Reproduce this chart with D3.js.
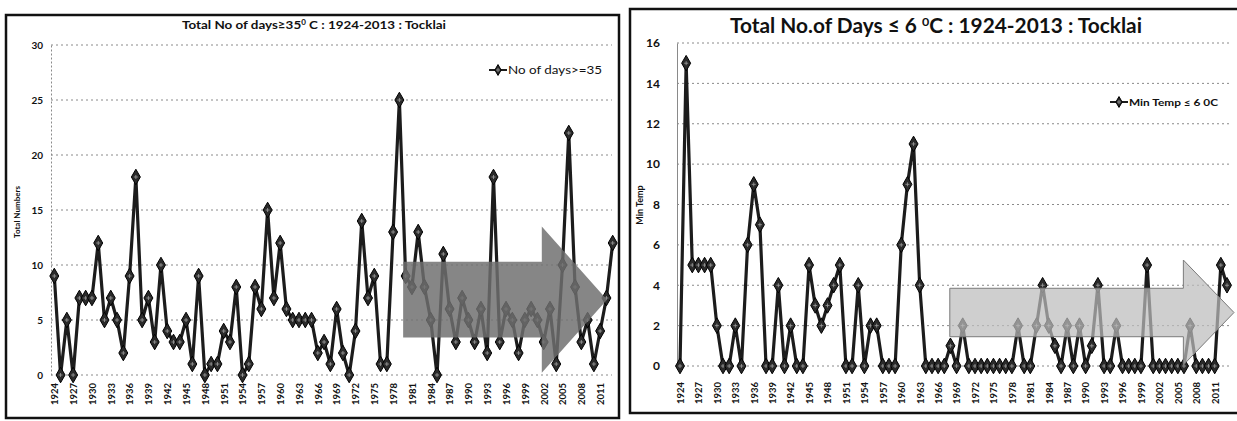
<!DOCTYPE html>
<html>
<head>
<meta charset="utf-8">
<script src="https://cdn.jsdelivr.net/npm/d3@7"></script>
<style>
body { margin: 0; background: #fff; }
svg { display: block; font-family: Lato, "Open Sans", sans-serif; }
</style>
</head>
<body>
<svg width="1237" height="421"></svg>
<script>
// years 1924 - 2013
var years = d3.range(1924, 2014);

// no of days with max temp >= 35 C
var hotDays = [
    9, 0, 5, 0, 7, 7, 7, 12, 5, 7,
    5, 2, 9, 18, 5, 7, 3, 10, 4, 3,
    3, 5, 1, 9, 0, 1, 1, 4, 3, 8,
    0, 1, 8, 6, 15, 7, 12, 6, 5, 5,
    5, 5, 2, 3, 1, 6, 2, 0, 4, 14,
    7, 9, 1, 1, 13, 25, 9, 8, 13, 8,
    5, 0, 11, 6, 3, 7, 5, 3, 6, 2,
    18, 3, 6, 5, 2, 5, 6, 5, 3, 6,
    1, 10, 22, 8, 3, 5, 1, 4, 7, 12
];

// no of days with min temp <= 6 C
var coldDays = [
    0, 15, 5, 5, 5, 5, 2, 0, 0, 2,
    0, 6, 9, 7, 0, 0, 4, 0, 2, 0,
    0, 5, 3, 2, 3, 4, 5, 0, 0, 4,
    0, 2, 2, 0, 0, 0, 6, 9, 11, 4,
    0, 0, 0, 0, 1, 0, 2, 0, 0, 0,
    0, 0, 0, 0, 0, 2, 0, 0, 2, 4,
    2, 1, 0, 2, 0, 2, 0, 1, 4, 0,
    0, 2, 0, 0, 0, 0, 5, 0, 0, 0,
    0, 0, 0, 2, 0, 0, 0, 0, 5, 4
];

var labelYears = [1924, 1927, 1930, 1933, 1936, 1939, 1942, 1945, 1948, 1951,
    1954, 1957, 1960, 1963, 1966, 1969, 1972, 1975, 1978, 1981,
    1984, 1987, 1990, 1993, 1996, 1999, 2002, 2005, 2008, 2011];

var hotTicks = [0, 5, 10, 15, 20, 25, 30];
var coldTicks = [0, 2, 4, 6, 8, 10, 12, 14, 16];

var svg = d3.select("svg");

var drawMarker = function(g, cx, cy, size)
{
    g.append("path")
        .attr("d", d3.symbol().type(d3.symbolDiamond).size(size)())
        .attr("transform", "translate(" + cx + "," + cy + ")")
        .attr("fill", "#2a2a2a")
        .attr("stroke", "#000")
        .attr("stroke-width", 1);
    g.append("path")
        .attr("d", "M" + (cx - 2) + "," + cy + "H" + (cx + 2) + "M" + cx + "," + (cy - 2) + "V" + (cy + 2))
        .attr("stroke", "#a0a0a0")
        .attr("stroke-width", 0.8);
}

var drawPanel = function(p)
{
    var g = svg.append("g");

    g.append("rect")
        .attr("x", p.box[0]).attr("y", p.box[1])
        .attr("width", p.box[2] - p.box[0]).attr("height", p.box[3] - p.box[1])
        .attr("fill", "#fff").attr("stroke", "#111").attr("stroke-width", 2.5);

    var x = d3.scalePoint().domain(years).range(p.xRange);
    // same positions as a continuous scale, for the arrow ends
    var xYear = d3.scaleLinear().domain([years[0], years[years.length - 1]]).range(p.xRange);
    var y = d3.scaleLinear().domain([0, d3.max(p.ticks)]).range(p.yRange);

    // dotted gridlines
    g.selectAll(".grid").data(p.ticks).enter().append("line")
        .attr("x1", p.axisX).attr("x2", p.gridEnd)
        .attr("y1", function(t){ return y(t); })
        .attr("y2", function(t){ return y(t); })
        .attr("stroke", "#8a8a8a").attr("stroke-width", 1)
        .attr("stroke-dasharray", "2,3");

    // y axis
    var yAxis = d3.axisLeft(y).tickValues(p.ticks).tickSize(0).tickPadding(p.tickPad);
    var ya = g.append("g").attr("transform", "translate(" + p.axisX + ",0)").call(yAxis);
    ya.select(".domain").attr("stroke", "#8a8a8a").attr("stroke-width", 1)
        .attr("stroke-dasharray", p.axisDash);
    ya.selectAll("text").attr("font-family", "Lato, sans-serif")
        .attr("font-weight", "bold").attr("font-size", p.tickFont).attr("fill", "#111");

    // x axis, rotated labels reading upwards
    var xAxis = d3.axisBottom(x).tickValues(labelYears).tickSize(0);
    var xa = g.append("g").attr("transform", "translate(0," + p.labelTop + ")").call(xAxis);
    xa.select(".domain").remove();
    xa.selectAll("text")
        .attr("transform", "rotate(-90)")
        .attr("x", 0).attr("y", 0).attr("dy", "0.35em")
        .attr("text-anchor", "end")
        .attr("font-family", "Lato, sans-serif").attr("font-weight", "bold")
        .attr("font-size", p.xFont).attr("fill", "#111");

    // series line
    var points = years.map(function(yr, i){ return { x: x(yr), y: y(p.values[i]) }; });
    var line = d3.line().x(function(d){ return d.x; }).y(function(d){ return d.y; });
    g.append("path").datum(points)
        .attr("d", line)
        .attr("fill", "none").attr("stroke", "#1c1c1c")
        .attr("stroke-width", 3.2).attr("stroke-linejoin", "round");
    points.forEach(function(pt){ drawMarker(g, pt.x, pt.y, p.markerSize); });

    // trend arrow over the recent years
    var a = p.arrow;
    var ax0 = xYear(a.from), ax1 = xYear(a.headAt);
    var yTop = y(a.top), yBot = y(a.bottom), yMid = (yTop + yBot) / 2;
    var hTop = y(a.headTop), hBot = yMid + (yMid - hTop);
    g.append("path")
        .attr("d", "M" + ax0 + "," + yTop + "L" + ax1 + "," + yTop + "L" + ax1 + "," + hTop +
            "L" + a.tip + "," + yMid + "L" + ax1 + "," + hBot + "L" + ax1 + "," + yBot +
            "L" + ax0 + "," + yBot + "Z")
        .attr("fill", a.fill).attr("fill-opacity", a.opacity)
        .attr("stroke", a.stroke).attr("stroke-width", 1);

    // y axis title
    g.append("text")
        .attr("transform", "translate(" + p.yTitleX + "," + p.yTitleY + ") rotate(-90)")
        .attr("text-anchor", "middle")
        .attr("font-weight", "bold").attr("font-size", p.yTitleFont).attr("fill", "#111")
        .text(p.yTitle);

    // chart title
    var t = g.append("text")
        .attr("x", p.titleX).attr("y", p.titleY)
        .attr("text-anchor", "middle")
        .attr("font-weight", "bold").attr("font-size", p.titleFont).attr("fill", "#111")
        .attr("textLength", p.titleLen).attr("lengthAdjust", "spacingAndGlyphs");
    t.append("tspan").text(p.title[0]);
    t.append("tspan").attr("dy", -p.titleFont * 0.35).attr("font-size", p.titleFont * 0.6).text("0");
    t.append("tspan").attr("dy", p.titleFont * 0.35).text(p.title[1]);

    // legend
    g.append("line")
        .attr("x1", p.legend[0]).attr("x2", p.legend[0] + 18)
        .attr("y1", p.legend[1]).attr("y2", p.legend[1])
        .attr("stroke", "#1c1c1c").attr("stroke-width", 2);
    drawMarker(g, p.legend[0] + 9, p.legend[1], 34);
    g.append("text")
        .attr("x", p.legend[0] + 19).attr("y", p.legend[1]).attr("dy", "0.35em")
        .attr("font-size", p.legendFont).attr("font-weight", p.legendWeight).attr("fill", "#111")
        .attr("textLength", p.legendLen).attr("lengthAdjust", "spacingAndGlyphs")
        .text(p.legendText);
}

drawPanel({
    values: hotDays,
    ticks: hotTicks,
    box: [6, 15, 619, 418],
    xRange: [54.3, 612.7],
    yRange: [375, 45],
    axisX: 51, gridEnd: 612, axisDash: "2,2",
    tickPad: 8, tickFont: 10,
    labelTop: 383, xFont: 9.5,
    markerSize: 70,
    arrow: { from: 1979.6, headAt: 2001.7, top: 10.3, bottom: 3.4, headTop: 13.5, tip: 607,
             fill: "#6f6f6f", opacity: 0.84, stroke: "none" },
    yTitle: "Total Numbers", yTitleX: 20, yTitleY: 212, yTitleFont: 8,
    title: ["Total No of days\u226535", " C : 1924-2013 : Tocklai"],
    titleX: 314, titleY: 29, titleFont: 12, titleLen: 264,
    legend: [489, 70], legendText: "No of days>=35", legendFont: 11.5, legendWeight: "normal", legendLen: 94
});

drawPanel({
    values: coldDays,
    ticks: coldTicks,
    box: [630, 9, 1240, 413],
    xRange: [680, 1227],
    yRange: [366, 43],
    axisX: 677, gridEnd: 1230, axisDash: "none",
    tickPad: 17, tickFont: 12,
    labelTop: 382, xFont: 9.5,
    markerSize: 70,
    arrow: { from: 1967.9, headAt: 2005.9, top: 3.85, bottom: 1.45, headTop: 5.25, tip: 1234,
             fill: "#bcbcbc", opacity: 0.72, stroke: "#7a7a7a" },
    yTitle: "Min Temp", yTitleX: 643, yTitleY: 205, yTitleFont: 9,
    title: ["Total No.of Days \u2264 6 ", "C : 1924-2013 : Tocklai"],
    titleX: 936, titleY: 33, titleFont: 20, titleLen: 412,
    legend: [1110, 102], legendText: "Min Temp \u2264 6 0C", legendFont: 10, legendWeight: "bold", legendLen: 89
});
</script>
</body>
</html>
